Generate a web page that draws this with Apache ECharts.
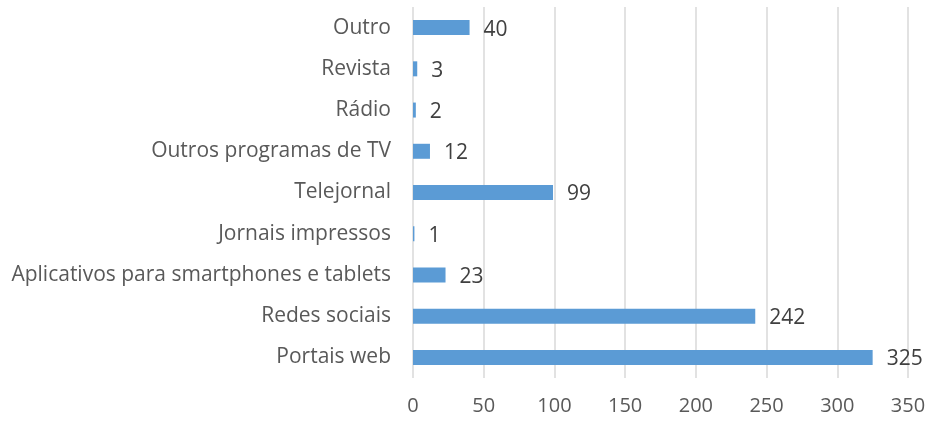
<!DOCTYPE html>
<html>
<head>
<meta charset="utf-8">
<script src="https://cdn.jsdelivr.net/npm/echarts@6/dist/echarts.min.js"></script>
<style>
  html, body { margin: 0; padding: 0; background: #fff; }
  #chart { width: 929px; height: 421px; }
</style>
</head>
<body>
<div id="chart"></div>
<script>
// categories bottom to top
var categories = ['Portais web', 'Redes sociais', 'Aplicativos para smartphones e tablets',
    'Jornais impressos', 'Telejornal', 'Outros programas de TV', 'Rádio', 'Revista', 'Outro'];
var values = [325, 242, 23, 1, 99, 12, 2, 3, 40];
var xTicks = [0, 50, 100, 150, 200, 250, 300, 350];

var chart = echarts.init(document.getElementById('chart'));
var font = 'Open Sans';

var option = {
    animation: false,
    grid: {
        left: 413,
        right: 21,
        top: 7,
        bottom: 43
    },
    xAxis: {
        type: 'value',
        min: xTicks[0],
        max: xTicks[xTicks.length - 1],
        interval: 50,
        axisLine: { show: false },
        axisTick: { show: false },
        axisLabel: {
            color: '#595959',
            fontFamily: font,
            fontSize: 20,
            margin: 18
        },
        splitLine: {
            lineStyle: { color: '#d9d9d9', width: 1.5 }
        }
    },
    yAxis: {
        type: 'category',
        data: categories,
        axisLine: { show: false },
        axisTick: { show: false },
        axisLabel: {
            color: '#595959',
            fontFamily: font,
            fontSize: 21,
            margin: 22
        }
    },
    series: [
        {
            type: 'bar',
            data: values,
            barWidth: 15,
            itemStyle: { color: '#5b9bd5' },
            label: {
                show: true,
                position: 'right',
                distance: 14,
                color: '#404040',
                fontFamily: font,
                fontSize: 21,
                offset: [0, 2]
            }
        }
    ]
};

chart.setOption(option);
</script>
</body>
</html>
